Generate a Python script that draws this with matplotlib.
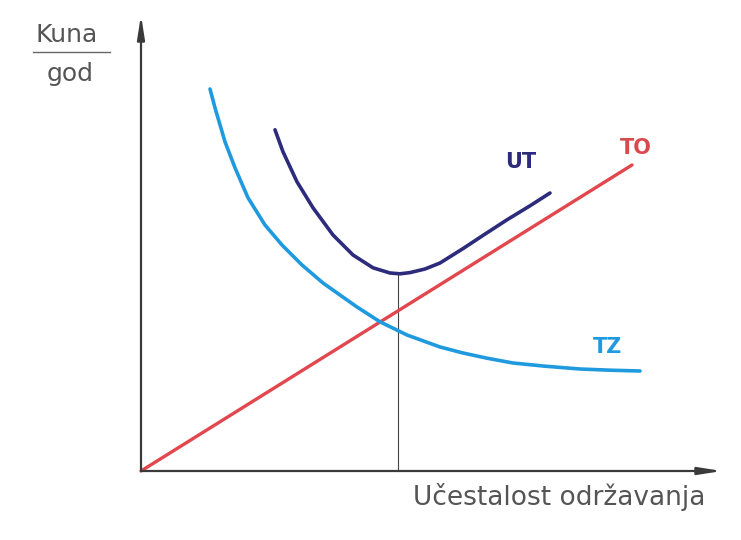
import matplotlib
matplotlib.use("Agg")
import matplotlib.pyplot as plt

# curve points (abstract units)
to_x = [0.0, 9.82]
to_y = [0.0, 7.65]

tz_x = [1.38, 1.48, 1.68, 1.88, 2.14, 2.48, 2.82, 3.22, 3.64, 4.32, 4.78,
        5.32, 5.98, 6.44, 6.92, 7.44, 8.08, 8.78, 9.38, 9.98]
tz_y = [9.55, 9.08, 8.23, 7.58, 6.83, 6.15, 5.65, 5.15, 4.70, 4.10, 3.73,
        3.40, 3.10, 2.95, 2.82, 2.70, 2.62, 2.55, 2.52, 2.50]

ut_x = [2.68, 2.84, 3.12, 3.44, 3.84, 4.24, 4.64, 4.98, 5.18, 5.38, 5.68,
        5.98, 6.44, 6.84, 7.32, 7.78, 8.18]
ut_y = [8.53, 7.98, 7.23, 6.58, 5.90, 5.40, 5.08, 4.95, 4.93, 4.96, 5.05,
        5.20, 5.56, 5.89, 6.28, 6.63, 6.95]

opt_x = 5.14
opt_y = 4.93

gray = "#555555"
red = "#e2474e"
blue = "#1f9ade"
navy = "#2d2b7c"

fig = plt.figure(figsize=(7.41, 5.40), dpi=100)
ax = fig.add_axes([0, 0, 1, 1])
ax.set_xlim(-2.82, 12.0)
ax.set_ylim(-1.725, 11.775)
ax.axis("off")

# axes with arrows
arrow = dict(arrowstyle="-|>,head_length=1.4,head_width=0.22",
             color="#3a3a3a", lw=1.6, shrinkA=0, shrinkB=0)
ax.annotate("", xy=(0, 11.4), xytext=(0, 0), arrowprops=arrow)
ax.annotate("", xy=(11.62, 0), xytext=(0, 0), arrowprops=arrow)

ax.plot([opt_x, opt_x], [0, opt_y], color="#444444", lw=0.8)

ax.plot(to_x, to_y, color=red, lw=2.4, solid_capstyle="round")
ax.plot(tz_x, tz_y, color=blue, lw=2.6, solid_capstyle="round",
        solid_joinstyle="round")
ax.plot(ut_x, ut_y, color=navy, lw=2.6, solid_capstyle="round",
        solid_joinstyle="round")

ax.text(9.90, 8.07, "TO", color="#d94a4f", fontsize=15, fontweight="bold",
        ha="center", va="center")
ax.text(7.60, 7.72, "UT", color=navy, fontsize=15, fontweight="bold",
        ha="center", va="center")
ax.text(9.34, 3.10, "TZ", color=blue, fontsize=15, fontweight="bold",
        ha="center", va="center")

# y label as fraction
ax.text(-1.48, 10.90, "Kuna", color=gray, fontsize=18, ha="center", va="center")
ax.plot([-2.16, -0.62], [10.47, 10.47], color="#666666", lw=1.0)
ax.text(-1.42, 9.93, "god", color=gray, fontsize=18, ha="center", va="center")

ax.text(5.44, -0.65, "Učestalost održavanja", color=gray, fontsize=19,
        ha="left", va="center")

fig.savefig("out.png", dpi=100, facecolor="white")
